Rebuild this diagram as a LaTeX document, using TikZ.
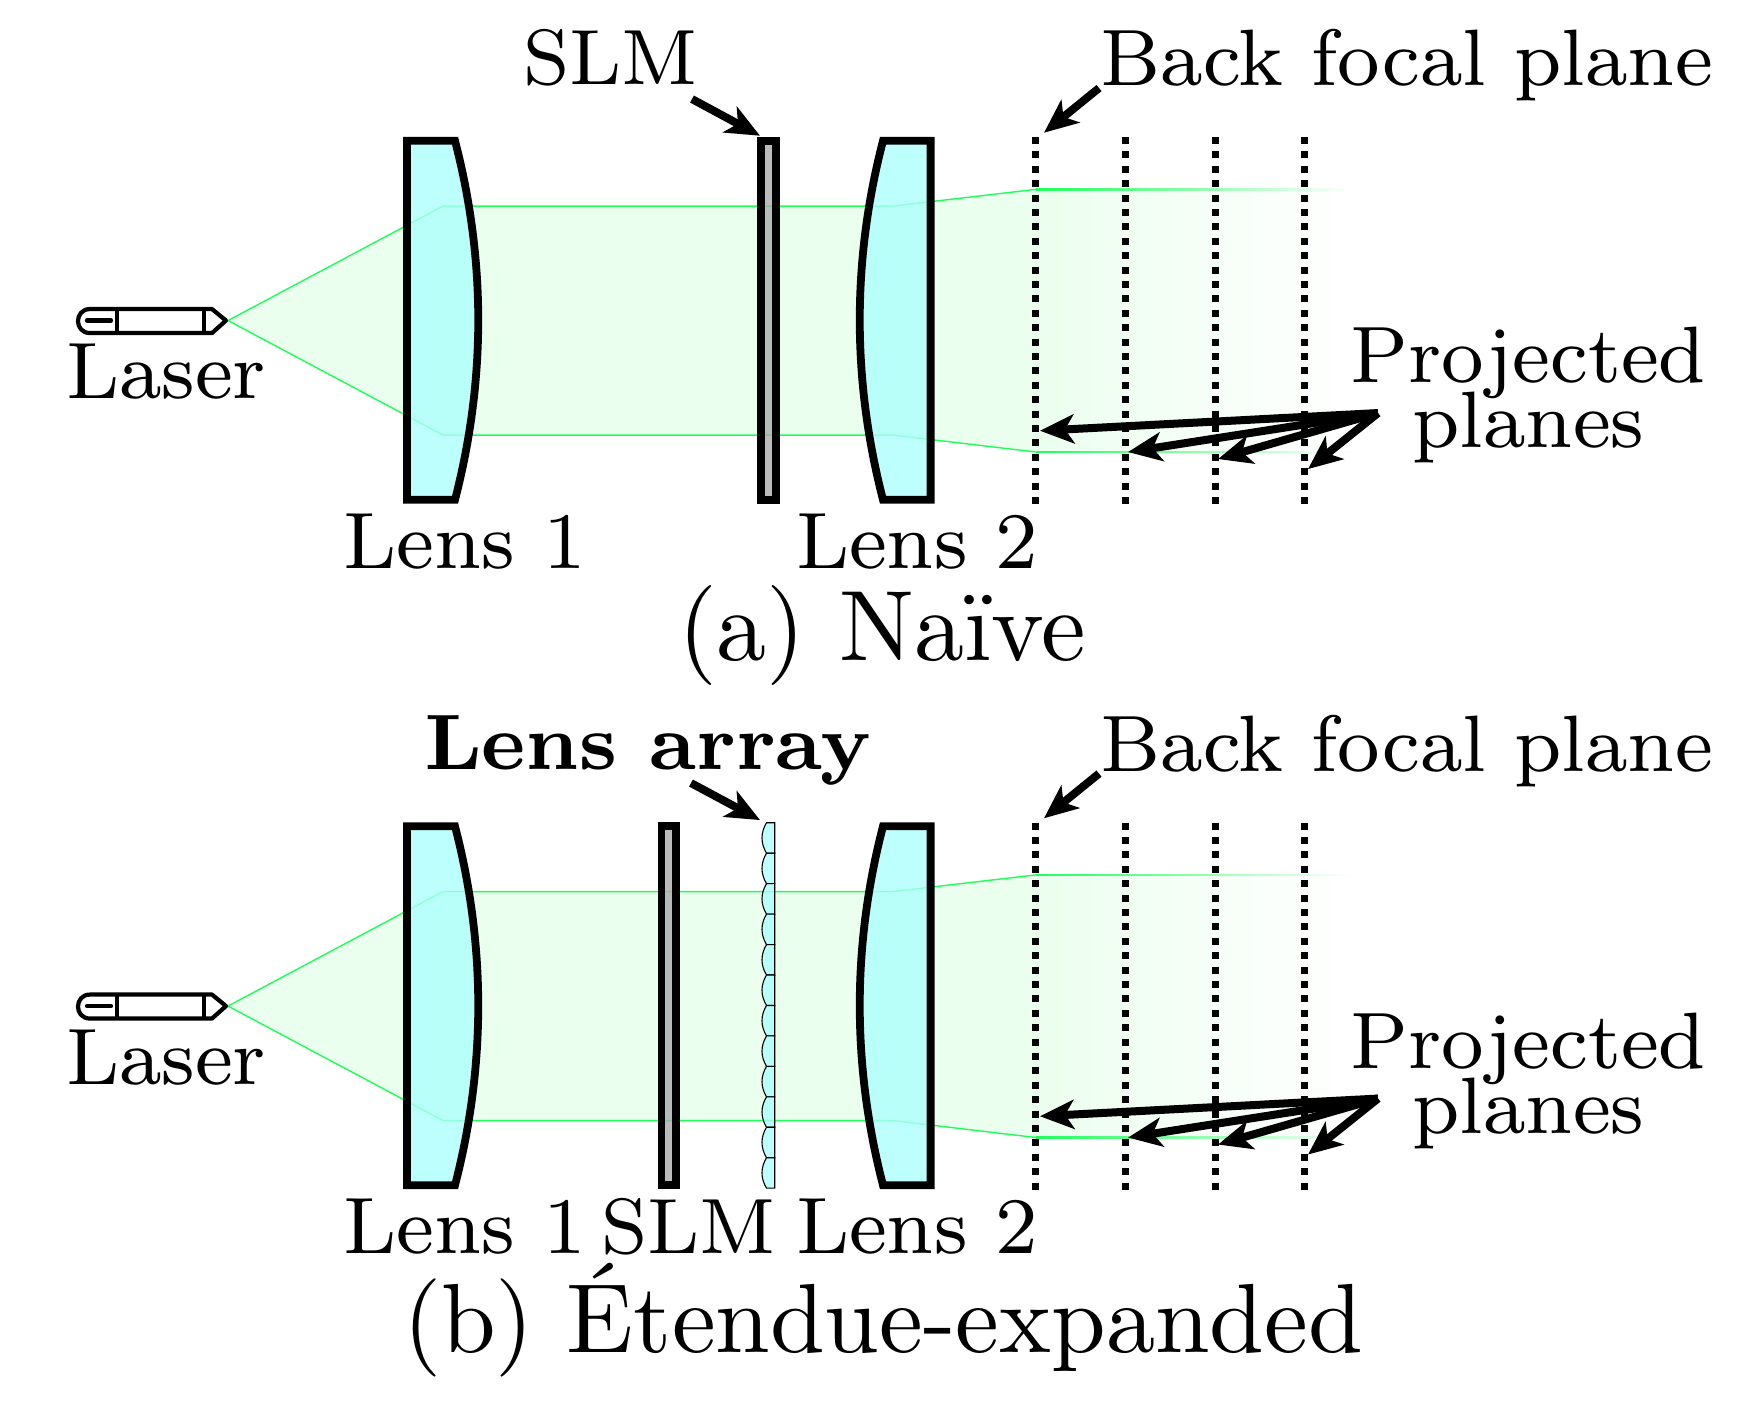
\documentclass[tikz,border=0pt]{standalone}
\usepackage{xcolor}
\usetikzlibrary{arrows.meta}
\definecolor{lenscyan}{RGB}{172, 255, 252}
\definecolor{slmgray}{RGB}{170, 170, 170}
\definecolor{beamgreen}{RGB}{30, 255, 90}
\definecolor{beamfill}{RGB}{235, 255, 238}

\begin{document}
\begin{tikzpicture}[
        x=0.1pt, y=-0.1pt,
        label/.style={inner sep=0pt, outer sep=0pt, anchor=base west, font=\footnotesize},
        caption/.style={inner sep=0pt, outer sep=0pt, anchor=base west, font=\normalsize},
        lensbox/.style={draw, line width=0.78pt, fill=lenscyan, fill opacity=0.8},
        slmbox/.style={draw, line width=0.78pt, fill=slmgray, fill opacity=0.8},
        laserbody/.style={draw, line width=0.42pt, fill=white, line join=round},
        beam/.style={draw=beamgreen, line width=0.14pt},
        plane/.style={line width=0.7pt, dash pattern=on 0.7pt off 0.74pt},
        pointer/.style={-{Stealth[length=3.4pt, width=2.9pt, inset=0.9pt]}, line width=0.8pt},
        tiny lens/.style={draw, line width=0.11pt, fill=lenscyan, fill opacity=0.8}
    ]
        \useasboundingbox (0,0) rectangle (1742,1400);

        % Everything both panels share
        \foreach \panel/\dy in {a/0, b/685.5} {
            \begin{scope}[shift={(0,\dy)}]
                % Beam
                \fill[beamfill] (228,320.5) -- (443,206) -- (893,206) -- (1036,189.3)
                    -- (1036,452) -- (893,435) -- (443,435) -- cycle;
                \shade[left color=beamfill, right color=white] (1036,189.3) rectangle (1353,452);
                \draw[beam] (443,206) -- (228,320.5) -- (443,435);
                \draw[beam] (443,206) -- (893,206) -- (1036,189.3);
                \draw[beam] (443,435) -- (893,435) -- (1036,452);
                \shade[left color=beamgreen, right color=white] (1036,188.7) rectangle (1353,190);
                \shade[left color=beamgreen, right color=white] (1036,451.3) rectangle (1353,452.6);

                % Laser
                \draw[laserbody] (212,309) -- (226,320.5) -- (212,333) -- (90,333)
                    .. controls (74,333) and (74,309) .. (90,309) -- cycle;
                \draw[line width=0.42pt] (117,309) -- (117,333);
                \draw[line width=0.42pt] (204,309) -- (204,333);
                \draw[line width=0.42pt, line cap=round] (87,320.5) -- (111,320.5);

                % Lenses
                \draw[lensbox] (407,140.7) -- (455,140.7) .. controls (486,260) and (486,380) .. (455,499.7)
                    -- (407,499.7) -- cycle;
                \draw[lensbox] (930.6,140.7) -- (883,140.7) .. controls (852,260) and (852,380) .. (883,499.7)
                    -- (930.6,499.7) -- cycle;

                % Planes
                \foreach \px in {1035.7, 1125.3, 1215, 1304.3}
                    \draw[plane] (\px,137) -- (\px,504);

                % Labels
                \node[label] (\panel-laser) at (66,398.7) {Laser};
                \node[label] (\panel-lensone) at (343.5,568) {Lens 1};
                \node[label] (\panel-lenstwo) at (796,568) {Lens 2};
                \node[label] (\panel-focal) at (1100.4,85.5) {Back focal plane};
                \node[label, anchor=base, align=center] (\panel-projected)
                    at (1528.5,447.5) {Projected\\[-3pt]planes};

                % Arrows
                \coordinate (\panel-focaltail) at (1099,88);
                \coordinate (\panel-focaltip) at (1044,132.7);
                \draw[pointer] (\panel-focaltail) -- (\panel-focaltip);
                \coordinate (\panel-fan) at (1378,413);
                \coordinate (\panel-tipone) at (1040,430.7);
                \coordinate (\panel-tiptwo) at (1128,452);
                \coordinate (\panel-tipthree) at (1218,459);
                \coordinate (\panel-tipfour) at (1308,469);
                \draw[pointer] (\panel-fan) -- (\panel-tipone);
                \draw[pointer] (\panel-fan) -- (\panel-tiptwo);
                \draw[pointer] (\panel-fan) -- (\panel-tipthree);
                \draw[pointer] (\panel-fan) -- (\panel-tipfour);
            \end{scope}
        }

        % Naive panel
        \draw[slmbox] (761,140.7) rectangle (775.6,499.7);
        \node[label, scale=0.98] (a-slm) at (523.3,84) {SLM};
        \coordinate (a-slmtail) at (692,99);
        \coordinate (a-slmtip) at (760,135.7);
        \draw[pointer] (a-slmtail) -- (a-slmtip);
        \node[caption] (a-caption) at (678,660) {(a) Naïve};

        % Expanded panel
        \draw[slmbox] (661.4,826.2) rectangle (676.3,1185.2);
        \foreach \i in {0,...,11} {
            \pgfmathsetmacro{\ytop}{822.7+30.45*\i}
            \pgfmathsetmacro{\ybot}{\ytop+30.45}
            \pgfmathsetmacro{\yone}{\ytop+10}
            \pgfmathsetmacro{\ytwo}{\ybot-10}
            \draw[tiny lens] (774.7,\ytop) -- (766.5,\ytop) .. controls (760.5,\yone) and (760.5,\ytwo) .. (766.5,\ybot)
                -- (774.7,\ybot) -- cycle;
        }
        \node[label, font=\footnotesize\bfseries, scale=0.983] (b-array) at (424,769.5) {Lens array};
        \coordinate (b-arraytail) at (691,783);
        \coordinate (b-arraytip) at (760,820);
        \draw[pointer] (b-arraytail) -- (b-arraytip);
        \node[label, scale=0.98] (b-slm) at (601,1253) {SLM};
        \node[caption, scale=0.983] (b-caption) at (403,1352.5) {(b) Étendue-expanded};
    \end{tikzpicture}
\end{document}
